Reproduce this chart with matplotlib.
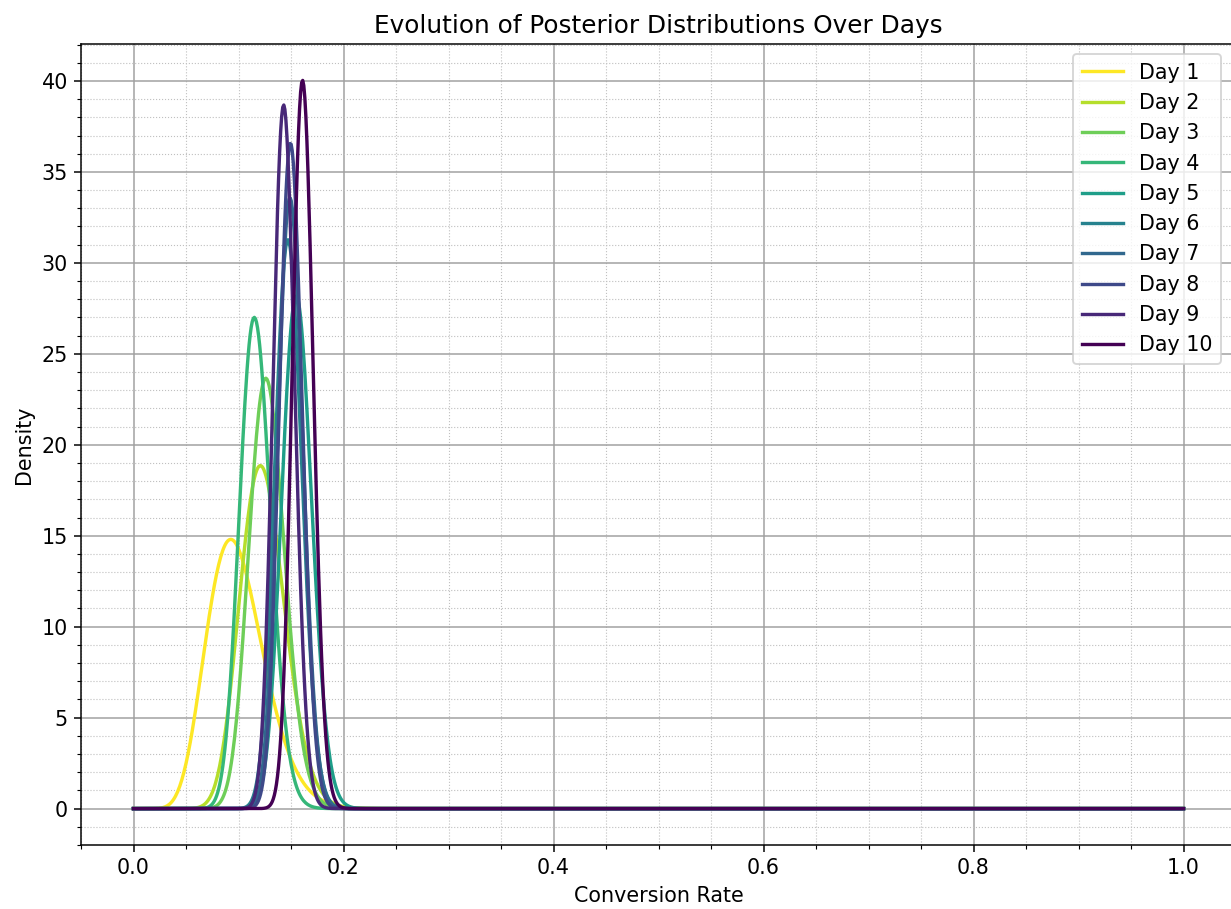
import numpy as np
import matplotlib
matplotlib.use("Agg")
import matplotlib.pyplot as plt
from math import lgamma

# Beta posterior parameters for each day
days = ["Day 1", "Day 2", "Day 3", "Day 4", "Day 5",
        "Day 6", "Day 7", "Day 8", "Day 9", "Day 10"]
alphas = [11.7, 29.6, 49.7, 54.6, 102.1, 114.2, 134.7, 160.7, 165.6, 219.8]
betas = [105.8, 209.1, 338.9, 413.3, 552.3, 657.6, 764.7, 909.5, 987.6, 1141.5]

x = np.linspace(0, 1, 1000)


def beta_pdf(x, a, b):
    with np.errstate(divide="ignore"):
        logp = (a - 1) * np.log(x) + (b - 1) * np.log(1 - x)
    logp += lgamma(a + b) - lgamma(a) - lgamma(b)
    return np.nan_to_num(np.exp(logp))


plt.rcParams["font.size"] = 11

dpi = 135
fig = plt.figure(figsize=(1231 / dpi, 909 / dpi), dpi=dpi)
ax = fig.add_axes([81 / 1231, 64 / 909, 1155 / 1231, 801 / 909])

colors = plt.cm.viridis(np.linspace(1, 0, len(days)))
for day, a, b, c in zip(days, alphas, betas, colors):
    ax.plot(x, beta_pdf(x, a, b), label=day, color=c, linewidth=1.8)

ax.set_title("Evolution of Posterior Distributions Over Days", fontsize=13.2)
ax.set_xlabel("Conversion Rate")
ax.set_ylabel("Density")
ax.minorticks_on()
ax.grid(True, which="major", linestyle="-", linewidth=0.8, color="#a0a0a0")
ax.grid(True, which="minor", linestyle=":", linewidth=0.6, color="#c0c0c0")
ax.legend(loc="upper right", bbox_to_anchor=(0.996, 1.0))

fig.savefig("out.png", dpi=dpi)
